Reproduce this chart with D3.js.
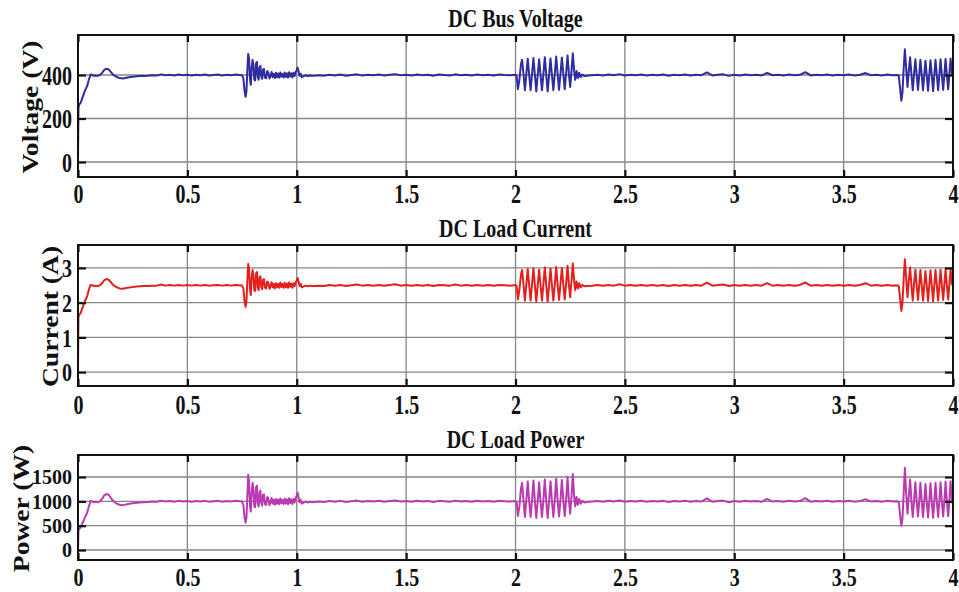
<!DOCTYPE html>
<html>
<head>
<meta charset="utf-8">
<script src="https://cdn.jsdelivr.net/npm/d3@7"></script>
<style>
  html, body { margin: 0; padding: 0; background: #ffffff; }
  svg { display: block; }
</style>
</head>
<body>
<script>
// ---------------- DATA ----------------
const time = [
  0,0.002,0.006,0.012,0.02,0.028,0.035,0.042,0.05,0.058,0.065,0.072,0.08,0.09,0.10,0.11,0.12,0.13,0.14,0.15,0.16,0.175,0.19,0.205,0.22,0.24,0.26,0.28,0.30,
  0.32,0.34,0.36,0.38,0.40,0.42,0.44,0.46,0.48,0.50,0.52,0.54,0.56,0.58,0.60,0.62,0.64,0.66,0.68,0.70,0.72,0.74,
  0.750,0.756,0.761,0.766,0.770,0.774,0.778,0.782,0.786,0.790,
  0.794,0.798,0.802,0.806,0.810,0.814,0.818,0.822,0.826,0.830,
  0.834,0.838,0.842,0.846,0.850,0.855,0.860,0.865,0.870,0.875,
  0.880,0.885,0.890,0.895,0.900,0.905,0.910,0.915,0.920,0.925,
  0.930,0.935,0.940,0.945,0.950,0.955,0.960,0.965,0.970,0.975,
  0.980,0.985,0.990,0.995,1.000,1.004,1.008,1.013,1.018,1.023,
  1.030,1.040,1.050,1.060,
  1.075,1.100,1.125,1.150,1.175,1.200,1.225,1.250,1.275,1.300,
  1.325,1.350,1.375,1.400,1.425,1.450,1.475,1.500,1.525,1.550,
  1.575,1.600,1.625,1.650,1.675,1.700,1.725,1.750,1.775,1.800,
  1.825,1.850,1.875,1.900,1.925,1.950,1.975,
  2.000,2.005,2.011,2.018,2.025,2.030,2.037,2.043,2.050,2.056,
  2.063,2.069,2.076,2.082,2.089,2.095,2.102,2.108,2.115,2.121,
  2.128,2.134,2.141,2.147,2.154,2.160,2.167,2.173,2.180,2.186,
  2.193,2.199,2.206,2.212,2.219,2.225,2.232,2.238,2.244,2.250,
  2.256,2.262,2.268,2.273,2.279,2.285,2.291,2.298,2.305,2.315,
  2.325,2.350,2.375,2.400,2.425,2.450,2.475,2.500,2.525,2.550,
  2.575,2.600,2.625,2.650,2.675,2.700,2.725,2.750,2.775,2.800,
  2.825,2.850,2.875,2.900,2.925,2.950,2.975,3.000,3.025,3.050,
  3.075,3.100,3.125,3.150,3.175,3.200,3.225,3.250,3.275,3.300,
  3.325,3.350,3.375,3.400,3.425,3.450,3.475,3.500,3.525,3.550,
  3.575,3.600,3.625,3.650,3.675,3.700,3.725,3.745,
  3.752,3.758,3.764,3.769,3.775,3.780,3.786,3.792,3.798,3.804,
  3.810,3.816,3.822,3.828,3.834,3.840,3.846,3.851,3.857,3.863,
  3.869,3.874,3.880,3.886,3.892,3.897,3.903,3.909,3.915,3.920,
  3.926,3.932,3.938,3.943,3.949,3.955,3.961,3.966,3.972,3.978,
  3.984,3.989,3.995,4.000
];

const voltage = [
  0,250,265,272,295,318,335,350,380,402,400,396,398,396,400,410,424,429,426,414,402,392,386,384,387,391,393,395,396,
  397,399,398,403,399,401,398,402,399,401,398,401,399,402,398,400,402,398,401,399,402,400,
  399,385,330,300,325,420,497,475,385,355,
  435,470,445,378,375,455,460,390,378,435,
  442,392,382,425,428,388,385,418,412,384,
  395,414,390,406,386,410,390,407,388,412,
  392,406,389,411,391,408,388,413,393,408,
  389,410,395,414,422,434,418,396,406,390,
  394,399,395,398,
  396,399,397,401,398,402,397,400,403,398,
  401,399,402,398,401,404,399,401,398,402,
  399,401,397,402,400,398,403,399,401,398,
  402,399,401,398,402,400,399,
  401,396,335,380,450,470,400,330,410,475,
  395,330,410,478,395,325,405,472,395,330,
  410,482,395,325,405,476,395,330,410,485,
  398,332,410,480,400,335,415,490,405,345,
  420,500,420,378,418,386,410,390,402,395,
  397,399,401,398,402,399,404,398,401,399,
  402,398,401,399,402,397,401,399,402,398,
  401,399,412,398,401,403,396,401,398,402,
  399,401,398,410,399,401,398,402,399,401,
  413,398,401,399,402,398,401,399,402,398,
  401,409,399,401,398,402,399,400,
  397,340,282,320,440,518,430,345,420,482,
  400,330,405,472,400,332,405,470,400,330,
  405,466,398,328,405,468,398,326,405,470,
  400,330,405,472,400,332,408,474,400,334,
  410,476,405,440
];

const current = [
  0,1.58,1.66,1.70,1.84,1.99,2.09,2.19,2.38,2.51,2.50,2.48,2.49,2.48,2.50,2.56,2.65,2.68,2.66,2.59,2.51,2.45,2.41,2.40,2.42,2.44,2.46,2.47,2.48,
  2.48,2.49,2.49,2.52,2.49,2.51,2.49,2.51,2.49,2.51,2.49,2.51,2.49,2.51,2.49,2.50,2.51,2.49,2.51,2.49,2.51,2.50,
  2.49,2.41,2.06,1.88,2.03,2.63,3.11,2.97,2.41,2.22,
  2.72,2.94,2.78,2.36,2.34,2.84,2.88,2.44,2.36,2.72,
  2.76,2.45,2.39,2.66,2.68,2.43,2.41,2.61,2.58,2.40,
  2.47,2.59,2.44,2.54,2.41,2.56,2.44,2.54,2.43,2.58,
  2.45,2.54,2.43,2.57,2.44,2.55,2.43,2.58,2.46,2.55,
  2.43,2.56,2.47,2.59,2.64,2.71,2.61,2.48,2.54,2.44,
  2.46,2.49,2.47,2.49,
  2.48,2.49,2.48,2.51,2.49,2.51,2.48,2.50,2.52,2.49,
  2.51,2.49,2.51,2.49,2.51,2.53,2.49,2.51,2.49,2.51,
  2.49,2.51,2.48,2.51,2.50,2.49,2.52,2.49,2.51,2.49,
  2.51,2.49,2.51,2.49,2.51,2.50,2.49,
  2.51,2.48,2.09,2.38,2.81,2.94,2.50,2.06,2.56,2.97,
  2.47,2.06,2.56,2.99,2.47,2.03,2.53,2.95,2.47,2.06,
  2.56,3.01,2.47,2.03,2.53,2.98,2.47,2.06,2.56,3.03,
  2.49,2.08,2.56,3.00,2.50,2.09,2.59,3.06,2.53,2.16,
  2.63,3.13,2.63,2.36,2.61,2.41,2.56,2.44,2.51,2.47,
  2.48,2.49,2.51,2.49,2.51,2.49,2.53,2.49,2.51,2.49,
  2.51,2.49,2.51,2.49,2.51,2.48,2.51,2.49,2.51,2.49,
  2.51,2.49,2.58,2.49,2.51,2.52,2.48,2.51,2.49,2.51,
  2.49,2.51,2.49,2.56,2.49,2.51,2.49,2.51,2.49,2.51,
  2.58,2.49,2.51,2.49,2.51,2.49,2.51,2.49,2.51,2.49,
  2.51,2.56,2.49,2.51,2.49,2.51,2.49,2.50,
  2.48,2.13,1.76,2.00,2.75,3.25,2.69,2.16,2.63,3.01,
  2.50,2.06,2.53,2.95,2.50,2.08,2.53,2.94,2.50,2.06,
  2.53,2.91,2.49,2.05,2.53,2.93,2.49,2.04,2.53,2.94,
  2.50,2.06,2.53,2.95,2.50,2.08,2.55,2.96,2.50,2.09,
  2.56,2.98,2.53,2.75
];

const power = [
  0,400,440,460,545,630,700,765,900,1010,1000,980,990,980,1000,1050,1125,1150,1135,1070,1010,960,930,922,935,955,965,975,980,
  985,995,990,1015,995,1005,990,1010,995,1005,990,1005,995,1010,990,1000,1010,990,1005,995,1010,1000,
  995,925,680,562,660,1100,1545,1410,925,790,
  1180,1380,1240,895,880,1295,1320,950,895,1180,
  1220,960,910,1130,1145,940,925,1090,1060,920,
  975,1070,950,1030,930,1050,950,1035,940,1060,
  960,1030,945,1055,955,1040,940,1065,965,1040,
  945,1050,975,1070,1115,1175,1090,980,1030,950,
  970,995,975,990,
  980,995,985,1005,990,1010,985,1000,1015,990,
  1005,995,1010,990,1005,1020,995,1005,990,1010,
  995,1005,985,1010,1000,990,1015,995,1005,990,
  1010,995,1005,990,1010,1000,995,
  1005,980,700,900,1265,1380,1000,680,1050,1410,
  975,680,1050,1430,975,660,1025,1390,975,680,
  1050,1450,975,660,1025,1415,975,680,1050,1470,
  990,690,1050,1440,1000,700,1075,1500,1025,745,
  1100,1560,1100,895,1090,930,1050,950,1010,975,
  985,995,1005,990,1010,995,1020,990,1005,995,
  1010,990,1005,995,1010,985,1005,995,1010,990,
  1005,995,1060,990,1005,1015,980,1005,990,1010,
  995,1005,990,1050,995,1005,990,1010,995,1005,
  1065,990,1005,995,1010,990,1005,995,1010,990,
  1005,1045,995,1005,990,1010,995,1000,
  985,720,497,640,1210,1690,1155,745,1100,1450,
  1000,680,1025,1390,1000,690,1025,1380,1000,680,
  1025,1355,990,672,1025,1370,990,665,1025,1380,
  1000,680,1025,1390,1000,690,1040,1405,1000,697,
  1050,1415,1025,1210
];

const xTicks = [0, 0.5, 1, 1.5, 2, 2.5, 3, 3.5, 4];
const xTickLabels = ["0", "0.5", "1", "1.5", "2", "2.5", "3", "3.5", "4"];
const voltageTicks = [0, 200, 400];
const currentTicks = [0, 1, 2, 3];
const powerTicks = [0, 500, 1000, 1500];
const titles = ["DC Bus Voltage", "DC Load Current", "DC Load Power"];
const yLabels = ["Voltage (V)", "Current (A)", "Power (W)"];

// ---------------- LAYOUT ----------------
const W = 959, H = 592;
const left = 78, right = 953;
const FONT = "'Liberation Serif', 'Times New Roman', serif";

const panels = [
  { values: voltage, ticks: voltageTicks, title: titles[0], ylabel: yLabels[0],
    top: 35, bottom: 177, domain: [-69, 584], color: "#2f2c9e",
    titleY: 27, ylabelX: 30, xlabOff: 26, xlabScale: 1.4, ytScale: 1.35 },
  { values: current, ticks: currentTicks, title: titles[1], ylabel: yLabels[1],
    top: 245, bottom: 386, domain: [-0.40, 3.66], color: "#e3201c",
    titleY: 237, ylabelX: 50, xlabOff: 28, xlabScale: 1.4, ytScale: 1.3 },
  { values: power, ticks: powerTicks, title: titles[2], ylabel: yLabels[2],
    top: 455, bottom: 560, domain: [-205, 1952], color: "#bb3ab0",
    titleY: 448, ylabelX: 21, xlabOff: 26, xlabScale: 1.3, ytScale: 1.0 }
];

const svg = d3.select("body").append("svg")
  .attr("width", W).attr("height", H)
  .style("background", "#fff");

const x = d3.scaleLinear().domain([0, 4]).range([left, right]);

panels.forEach((p, pi) => {
  const y = d3.scaleLinear().domain(p.domain).range([p.bottom, p.top]);
  const g = svg.append("g");

  // grid
  g.append("g").selectAll("line").data(xTicks).join("line")
    .attr("x1", d => x(d)).attr("x2", d => x(d))
    .attr("y1", p.top).attr("y2", p.bottom)
    .attr("stroke", "#858585").attr("stroke-width", 1.3);
  g.append("g").selectAll("line").data(p.ticks).join("line")
    .attr("x1", left).attr("x2", right)
    .attr("y1", d => y(d)).attr("y2", d => y(d))
    .attr("stroke", "#858585").attr("stroke-width", 1.3);

  // clip
  const clipId = "clip" + pi;
  svg.append("clipPath").attr("id", clipId).append("rect")
    .attr("x", left).attr("y", p.top).attr("width", right - left).attr("height", p.bottom - p.top);

  const pts = time.map((t, i) => [t, p.values[i]]).filter(d => d[1] !== undefined);
  const line = d3.line().x(d => x(d[0])).y(d => y(d[1]));
  g.append("path").datum(pts)
    .attr("clip-path", `url(#${clipId})`)
    .attr("d", line)
    .attr("fill", "none")
    .attr("stroke", p.color)
    .attr("stroke-width", 2)
    .attr("stroke-linejoin", "round");

  // axes
  const axB = g.append("g").attr("transform", `translate(0,${p.bottom})`)
    .call(d3.axisBottom(x).tickValues(xTicks).tickFormat((d, i) => xTickLabels[i]).tickSizeInner(-7).tickSizeOuter(0));
  const axT = g.append("g").attr("transform", `translate(0,${p.top})`)
    .call(d3.axisTop(x).tickValues(xTicks).tickFormat("").tickSizeInner(-7).tickSizeOuter(0));
  const axL = g.append("g").attr("transform", `translate(${left},0)`)
    .call(d3.axisLeft(y).tickValues(p.ticks).tickFormat(d3.format("d")).tickSizeInner(-8).tickSizeOuter(0));
  const axR = g.append("g").attr("transform", `translate(${right},0)`)
    .call(d3.axisRight(y).tickValues(p.ticks).tickFormat("").tickSizeInner(-8).tickSizeOuter(0));

  [axB, axT, axL, axR].forEach(a => {
    a.select(".domain").remove();
    a.selectAll(".tick line").attr("stroke", "#111").attr("stroke-width", 2.2);
  });

  axB.selectAll(".tick text")
    .attr("y", 0).attr("dy", 0)
    .attr("transform", `translate(0,${p.xlabOff}) scale(1,${p.xlabScale})`)
    .attr("font-family", FONT).attr("font-weight", "bold").attr("font-size", 20)
    .attr("fill", "#111");
  axL.selectAll(".tick text")
    .attr("x", -6).attr("dy", "0.34em")
    .attr("transform", `scale(1,${p.ytScale})`)
    .attr("text-anchor", "end")
    .attr("font-family", FONT).attr("font-weight", "bold").attr("font-size", 20)
    .attr("fill", "#111");

  // frame
  g.append("rect")
    .attr("x", left).attr("y", p.top)
    .attr("width", right - left).attr("height", p.bottom - p.top)
    .attr("fill", "none").attr("stroke", "#111").attr("stroke-width", 2);

  // title
  g.append("text")
    .attr("transform", `translate(${(left + right) / 2},${p.titleY}) scale(1,1.3)`)
    .attr("text-anchor", "middle")
    .attr("font-family", FONT).attr("font-weight", "bold").attr("font-size", 20)
    .attr("fill", "#111")
    .text(p.title);

  // y label
  g.append("text")
    .attr("transform", `translate(${p.ylabelX},${(p.top + p.bottom) / 2 + 1}) rotate(-90) scale(1.2,1)`)
    .attr("text-anchor", "middle").attr("dy", "0.33em")
    .attr("font-family", FONT).attr("font-weight", "bold").attr("font-size", 23)
    .attr("fill", "#111")
    .text(p.ylabel);
});
</script>
</body>
</html>
